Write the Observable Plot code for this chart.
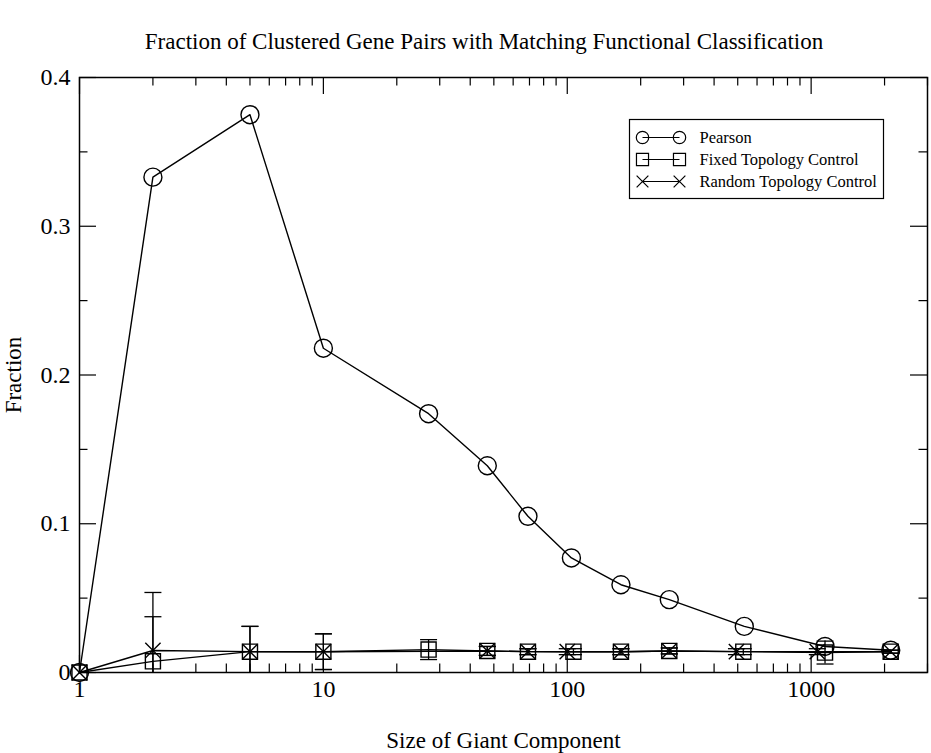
<!DOCTYPE html>
<html><head><meta charset="utf-8">
<script src="https://cdn.jsdelivr.net/npm/d3@7"></script>
<script src="https://cdn.jsdelivr.net/npm/@observablehq/plot@0.6"></script>
<style>
body{margin:0;background:#fff;font-family:"Liberation Serif",serif;}
#title{height:60px;box-sizing:border-box;padding-top:29px;padding-left:37px;text-align:center;font-size:23px;line-height:26px;color:#000;}
</style></head><body>
<div id="title">Fraction of Clustered Gene Pairs with Matching Functional Classification</div>
<div id="chart"></div>
<script>
// ---- data ----
const pearsonX = [1, 2, 5, 10, 27, 47, 69, 104, 166, 262, 532, 1140, 2120];
const pearsonY = [0, 0.333, 0.375, 0.218, 0.174, 0.139, 0.105, 0.077, 0.059, 0.049, 0.031, 0.0175, 0.015];

const fixedX   = [1, 2, 5, 10, 27, 47, 69, 106, 166, 262, 527, 1140, 2120];
const fixedY   = [0, 0.0075, 0.014, 0.014, 0.0154, 0.0145, 0.014, 0.014, 0.014, 0.0145, 0.014, 0.0134, 0.014];
const fixedErr = [0, 0.030, 0.017, 0.012, 0.0067, 0.003, 0.002, 0.002, 0.002, 0.002, 0.002, 0.0077, 0.001];

const randomX   = [1, 2, 5, 10, 47, 69, 100, 166, 262, 494, 1060, 2120];
const randomY   = [0, 0.0148, 0.014, 0.014, 0.0145, 0.014, 0.014, 0.014, 0.0145, 0.014, 0.014, 0.014];
const randomErr = [0, 0.039, 0.017, 0.012, 0.003, 0.002, 0.002, 0.002, 0.002, 0.002, 0.002, 0.001];

const xTicks = [1, 10, 100, 1000];
const xMinorTicks = [2,3,4,5,6,7,8,9,20,30,40,50,60,70,80,90,200,300,400,500,600,700,800,900,2000,3000];
const yTicks = [0, 0.1, 0.2, 0.3, 0.4];
const yMinorTicks = [0.05, 0.15, 0.25, 0.35];

const seriesNames = ["Pearson", "Fixed Topology Control", "Random Topology Control"];

// ---- tables ----
const pearson = pearsonX.map((x, i) => ({x, y: pearsonY[i]}));
const fixed = fixedX.map((x, i) => ({x, y: fixedY[i], e: fixedErr[i]}));
const random = randomX.map((x, i) => ({x, y: randomY[i], e: randomErr[i]}));

// horizontal bar symbol for error caps / legend line
const hbar = {draw(ctx, size) { const w = Math.sqrt(size / Math.PI); ctx.moveTo(-w, 0); ctx.lineTo(w, 0); }};

const W = 931, H = 693, mT = 17, mB = 81, mL = 79, mR = 4;
const fh = H - mT - mB, fw = W - mL - mR;
const major = 17, minor = 8.5;

function errMarks(data) {
  const d = data.filter(r => r.e > 0);
  return [
    Plot.ruleX(d, {x: "x", y1: r => r.y - r.e, y2: r => r.y + r.e, stroke: "black", strokeWidth: 1.3, clip: true}),
    Plot.dot(d, {x: "x", y: r => r.y + r.e, symbol: hbar, r: 8.5, stroke: "black", strokeWidth: 1.3, clip: true}),
    Plot.dot(d, {x: "x", y: r => r.y - r.e, symbol: hbar, r: 8.5, stroke: "black", strokeWidth: 1.3, clip: true})
  ];
}

const legendSymbols = [
  {symbol: "circle", r: 6.2},
  {symbol: "square", r: 6.8},
  {symbol: "times", r: 5.4}
];
const legendRowDy = [60, 82, 104];
const legendMarks = [];
seriesNames.forEach((name, i) => {
  const dy = legendRowDy[i];
  legendMarks.push(
    Plot.dot([0], {frameAnchor: "top-left", dx: 660.5 - mL, dy, symbol: hbar, r: 18.5, stroke: "black", strokeWidth: 1.2}),
    Plot.dot([0], {frameAnchor: "top-left", dx: 642 - mL, dy, symbol: legendSymbols[i].symbol, r: legendSymbols[i].r, stroke: "black", fill: "none", strokeWidth: 1.2}),
    Plot.dot([0], {frameAnchor: "top-left", dx: 679 - mL, dy, symbol: legendSymbols[i].symbol, r: legendSymbols[i].r, stroke: "black", fill: "none", strokeWidth: 1.2}),
    Plot.text([name], {frameAnchor: "top-left", dx: 699 - mL, dy, text: d => d, textAnchor: "start", lineAnchor: "middle", fontSize: 16.5, fill: "black"})
  );
});

const chart = Plot.plot({
  width: W, height: H,
  marginTop: mT, marginBottom: mB, marginLeft: mL, marginRight: mR,
  style: {fontFamily: "'Liberation Serif', serif", background: "white", color: "black"},
  x: {type: "log", domain: [1, 3000]},
  y: {domain: [0, 0.4]},
  marks: [
    // tick marks pointing inward on all four sides
    Plot.ruleX(xTicks, {x: d => d, insetTop: fh - major, stroke: "black", strokeWidth: 1.2}),
    Plot.ruleX(xTicks, {x: d => d, insetBottom: fh - major, stroke: "black", strokeWidth: 1.2}),
    Plot.ruleX(xMinorTicks, {x: d => d, insetTop: fh - minor, stroke: "black", strokeWidth: 1.2}),
    Plot.ruleX(xMinorTicks, {x: d => d, insetBottom: fh - minor, stroke: "black", strokeWidth: 1.2}),
    Plot.ruleY(yTicks, {y: d => d, insetRight: fw - major, stroke: "black", strokeWidth: 1.2}),
    Plot.ruleY(yTicks, {y: d => d, insetLeft: fw - major, stroke: "black", strokeWidth: 1.2}),
    Plot.ruleY(yMinorTicks, {y: d => d, insetRight: fw - minor, stroke: "black", strokeWidth: 1.2}),
    Plot.ruleY(yMinorTicks, {y: d => d, insetLeft: fw - minor, stroke: "black", strokeWidth: 1.2}),
    Plot.axisX({ticks: xTicks, tickSize: 0, tickPadding: 7, fontSize: 24, tickFormat: d => String(d), label: null}),
    Plot.axisY({ticks: yTicks, tickSize: 0, tickPadding: 9, fontSize: 24, tickFormat: d => d === 0 ? "0" : d.toFixed(1), label: null}),
    // error bars
    ...errMarks(fixed),
    ...errMarks(random),
    // series
    Plot.line(pearson, {x: "x", y: "y", stroke: "black", strokeWidth: 1.4}),
    Plot.line(fixed, {x: "x", y: "y", stroke: "black", strokeWidth: 1.4}),
    Plot.line(random, {x: "x", y: "y", stroke: "black", strokeWidth: 1.4}),
    Plot.dot(pearson, {x: "x", y: "y", symbol: "circle", r: 9, stroke: "black", fill: "none", strokeWidth: 1.4}),
    Plot.dot(fixed, {x: "x", y: "y", symbol: "square", r: 8.5, stroke: "black", fill: "none", strokeWidth: 1.4}),
    Plot.dot(random, {x: "x", y: "y", symbol: "times", r: 7, stroke: "black", fill: "none", strokeWidth: 1.4}),
    // legend
    Plot.frame({insetLeft: 629 - mL, insetRight: W - mR - 883, insetTop: 119 - mT - 60, insetBottom: (mT + 60 + fh) - 198, stroke: "black", strokeWidth: 1.2}),
    ...legendMarks,
    // axis titles
    Plot.text(["Size of Giant Component"], {frameAnchor: "bottom", dy: 68, text: d => d, lineAnchor: "middle", fontSize: 23, fill: "black"}),
    Plot.text(["Fraction"], {frameAnchor: "left", dx: 13 - mL, rotate: -90, text: d => d, textAnchor: "middle", lineAnchor: "middle", fontSize: 23, fill: "black"}),
    Plot.frame({stroke: "black", strokeWidth: 1.5})
  ]
});
document.getElementById("chart").appendChild(chart);
</script></body></html>
